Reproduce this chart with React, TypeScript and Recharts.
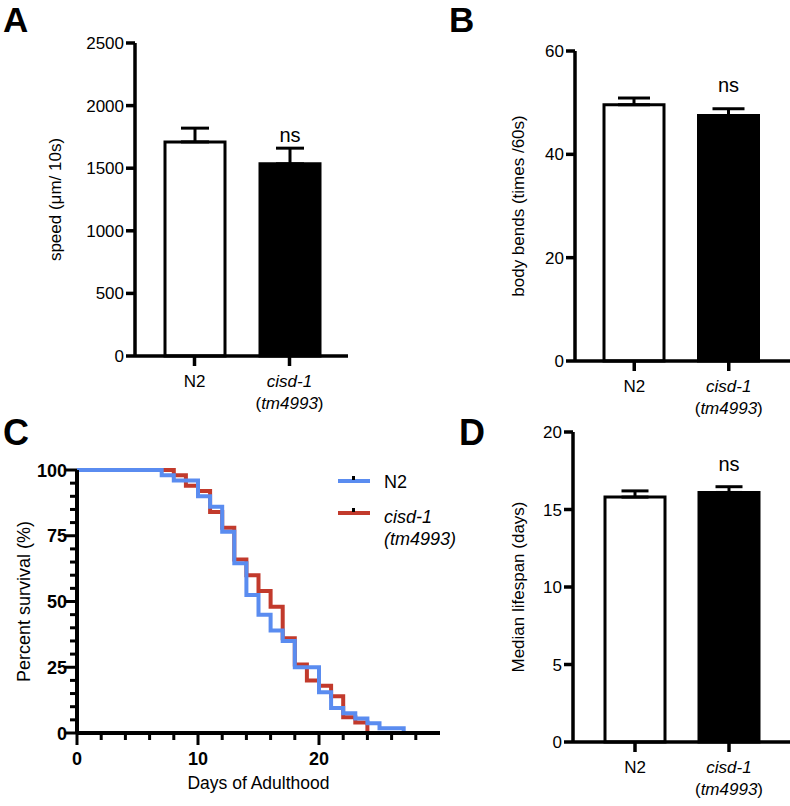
import React from "react";
import {
  Bar,
  BarChart,
  Cell,
  ErrorBar,
  Label,
  LabelList,
  Line,
  LineChart,
  XAxis,
  YAxis
} from "recharts";

const FONT = '"Liberation Sans", Arial, Helvetica, sans-serif';
const BLUE = "#5a8cf0";
const RED = "#c23a2c";

// bar panels
const strains = ["N2", "cisd-1"];
const alleles = ["", "tm4993"];
const significance = ["", "ns"];
const speedMean = [1710, 1535];
const speedSem = [110, 125];
const bendsMean = [49.6, 47.5];
const bendsSem = [1.3, 1.3];
const lifespanMean = [15.8, 16.1];
const lifespanSem = [0.4, 0.37];
const speedTicks = [0, 500, 1000, 1500, 2000, 2500];
const bendsTicks = [0, 20, 40, 60];
const lifespanTicks = [0, 5, 10, 15, 20];
const barFills = ["#ffffff", "#000000"];

// survival panel
const days = [0, 1, 2, 3, 4, 5, 6, 7, 8, 9, 10, 11, 12, 13, 14, 15, 16, 17, 18, 19, 20, 21, 22, 23, 24, 25, 26, 27];
const n2Survival = [100, 100, 100, 100, 100, 100, 100, 98, 96, 96, 90, 86, 76.5, 64.5, 52.5, 45, 39, 35, 25, 25, 15.5, 9.5, 7.5, 5.5, 3.7, 1.8, 1.8, 0];
const cisdSurvival = [100, 100, 100, 100, 100, 100, 100, 100, 98, 94, 92, 84, 78, 66, 60, 54, 48, 36, 26, 20, 18, 14, 6, 4, 0];
const dayTicks = [0, 2, 4, 6, 8, 10, 12, 14, 16, 18, 20, 22, 24, 26, 28];
const dayLabels = [0, 10, 20];
const survivalTicks = [0, 5, 10, 15, 20, 25, 30, 35, 40, 45, 50, 55, 60, 65, 70, 75, 80, 85, 90, 95, 100];
const survivalLabels = [0, 25, 50, 75, 100];

const survivalRows = days.map((day, i) => ({
  day,
  n2: n2Survival[i],
  cisd: i < cisdSurvival.length ? cisdSurvival[i] : null
}));

function makeRows(mean: number[], sem: number[]) {
  return strains.map((name, i) => ({
    name,
    allele: alleles[i],
    mean: mean[i],
    err: [0, sem[i]],
    sig: significance[i]
  }));
}

function StrainTick({ x, y, payload, index }: any) {
  const allele = alleles[index];
  return (
    <text x={x} y={y} textAnchor="middle" fontFamily={FONT} fontSize={17} fill="#000">
      {allele ? (
        <>
          <tspan x={x} dy={21} fontStyle="italic">
            {payload.value}
          </tspan>
          <tspan x={x} dy={22}>(</tspan>
          <tspan fontStyle="italic">{allele}</tspan>
          <tspan>)</tspan>
        </>
      ) : (
        <tspan x={x} dy={21}>
          {payload.value}
        </tspan>
      )}
    </text>
  );
}

function BarPanel({
  rows,
  left,
  top,
  width,
  height,
  margin,
  padding,
  domain,
  ticks,
  yLabel,
  labelOffset,
  nsOffset,
  capWidth
}: any) {
  return (
    <div style={{ position: "absolute", left, top }}>
      <BarChart width={width} height={height} data={rows} margin={margin}>
        <XAxis
          dataKey="name"
          height={55}
          padding={padding}
          interval={0}
          axisLine={{ stroke: "#000", strokeWidth: 3.5 }}
          tickLine={{ stroke: "#000", strokeWidth: 3.5 }}
          tickSize={10}
          tickMargin={0}
          tick={<StrainTick />}
        />
        <YAxis
          width={80}
          type="number"
          domain={domain}
          ticks={ticks}
          interval={0}
          axisLine={{ stroke: "#000", strokeWidth: 3.5 }}
          tickLine={{ stroke: "#000", strokeWidth: 3.5 }}
          tickSize={9}
          tickMargin={2}
          tick={{ fill: "#000", fontSize: 17, fontFamily: FONT }}
        >
          <Label
            value={yLabel}
            angle={-90}
            position="insideLeft"
            offset={labelOffset}
            style={{ textAnchor: "middle", fill: "#000", fontSize: 17, fontFamily: FONT }}
          />
        </YAxis>
        <Bar dataKey="mean" barSize={60} stroke="#000" strokeWidth={3} isAnimationActive={false}>
          {rows.map((_r: any, i: number) => (
            <Cell key={i} fill={barFills[i]} />
          ))}
          <ErrorBar
            dataKey="err"
            direction="y"
            width={capWidth}
            stroke="#000"
            strokeWidth={3}
            isAnimationActive={false}
          />
          <LabelList dataKey="sig" position="top" offset={nsOffset} fill="#000" fontSize={20} fontFamily={FONT} />
        </Bar>
      </BarChart>
    </div>
  );
}

function DayTick({ x, y, payload }: any) {
  const major = dayLabels.includes(payload.value);
  return (
    <g>
      <line x1={x} x2={x} y1={y} y2={y + (major ? 12 : 7)} stroke="#000" strokeWidth={3} />
      {major && (
        <text x={x} y={y + 32} textAnchor="middle" fontFamily={FONT} fontWeight="bold" fontSize={18} fill="#000">
          {payload.value}
        </text>
      )}
    </g>
  );
}

function SurvivalTick({ x, y, payload }: any) {
  const major = survivalLabels.includes(payload.value);
  return (
    <g>
      <line x1={x - (major ? 12 : 7)} x2={x} y1={y} y2={y} stroke="#000" strokeWidth={3} />
      {major && (
        <text x={x - 10} y={y} dy={6.5} textAnchor="end" fontFamily={FONT} fontWeight="bold" fontSize={18} fill="#000">
          {payload.value}
        </text>
      )}
    </g>
  );
}

export default function App() {
  return (
    <div
      style={{
        position: "absolute",
        left: 0,
        top: 0,
        width: 790,
        height: 806,
        background: "#fff",
        overflow: "hidden",
        fontFamily: FONT
      }}
    >
      <BarPanel
        rows={makeRows(speedMean, speedSem)}
        left={0}
        top={0}
        width={360}
        height={420}
        margin={{ top: 43, right: 12, left: 55, bottom: 9 }}
        padding={{ left: 12, right: 11 }}
        domain={[0, 2500]}
        ticks={speedTicks}
        yLabel="speed (μm/ 10s)"
        labelOffset={0}
        nsOffset={22}
        capWidth={14}
      />
      <BarPanel
        rows={makeRows(bendsMean, bendsSem)}
        left={400}
        top={0}
        width={390}
        height={420}
        margin={{ top: 51, right: 0, left: 95, bottom: 4 }}
        padding={{ left: 12, right: 14 }}
        domain={[0, 60]}
        ticks={bendsTicks}
        yLabel="body bends (times /60s)"
        labelOffset={23}
        nsOffset={24}
        capWidth={16}
      />
      <BarPanel
        rows={makeRows(lifespanMean, lifespanSem)}
        left={400}
        top={400}
        width={390}
        height={406}
        margin={{ top: 32, right: 0, left: 93, bottom: 9 }}
        padding={{ left: 15, right: 14 }}
        domain={[0, 20]}
        ticks={lifespanTicks}
        yLabel="Median lifespan (days)"
        labelOffset={25}
        nsOffset={21}
        capWidth={13.5}
      />

      <div style={{ position: "absolute", left: 0, top: 400 }}>
        <LineChart width={460} height={406} data={survivalRows} margin={{ top: 70, right: 20, left: 17, bottom: 13 }}>
          <XAxis
            type="number"
            dataKey="day"
            domain={[0, 30]}
            ticks={dayTicks}
            interval={0}
            height={60}
            axisLine={{ stroke: "#000", strokeWidth: 4 }}
            tickLine={false}
            tickSize={0}
            tickMargin={0}
            tick={<DayTick />}
          >
            <Label
              value="Days of Adulthood"
              position="insideBottom"
              offset={4}
              style={{ fill: "#000", fontSize: 17.5, fontFamily: FONT }}
            />
          </XAxis>
          <YAxis
            type="number"
            domain={[0, 100]}
            ticks={survivalTicks}
            interval={0}
            width={60}
            axisLine={{ stroke: "#000", strokeWidth: 4 }}
            tickLine={false}
            tickSize={0}
            tickMargin={0}
            tick={<SurvivalTick />}
          >
            <Label
              value="Percent survival (%)"
              angle={-90}
              position="insideLeft"
              offset={7}
              style={{ textAnchor: "middle", fill: "#000", fontSize: 18, fontFamily: FONT }}
            />
          </YAxis>
          <Line
            type="stepAfter"
            dataKey="cisd"
            stroke={RED}
            strokeWidth={4}
            dot={false}
            isAnimationActive={false}
          />
          <Line
            type="stepAfter"
            dataKey="n2"
            stroke={BLUE}
            strokeWidth={4}
            dot={false}
            isAnimationActive={false}
          />
        </LineChart>
      </div>

      <svg
        width={790}
        height={806}
        style={{ position: "absolute", left: 0, top: 0, pointerEvents: "none" }}
        fontFamily={FONT}
      >
        <text x={3} y={32} fontSize={35} fontWeight="bold">A</text>
        <text x={449} y={32} fontSize={35} fontWeight="bold">B</text>
        <text x={3} y={445} fontSize={36} fontWeight="bold">C</text>
        <text x={459} y={445} fontSize={36} fontWeight="bold">D</text>

        {/* legend for C */}
        <line x1={338} x2={370} y1={481} y2={481} stroke={BLUE} strokeWidth={4} />
        <rect x={352} y={476} width={3} height={4} fill="#000" />
        <text x={384} y={488} fontSize={18}>N2</text>
        <line x1={338} x2={370} y1={513} y2={513} stroke={RED} strokeWidth={4} />
        <rect x={352} y={508} width={3} height={4} fill="#000" />
        <text x={384} y={523} fontSize={18} fontStyle="italic">cisd-1</text>
        <text x={384} y={545} fontSize={18} fontStyle="italic">(tm4993)</text>
      </svg>
    </div>
  );
}
